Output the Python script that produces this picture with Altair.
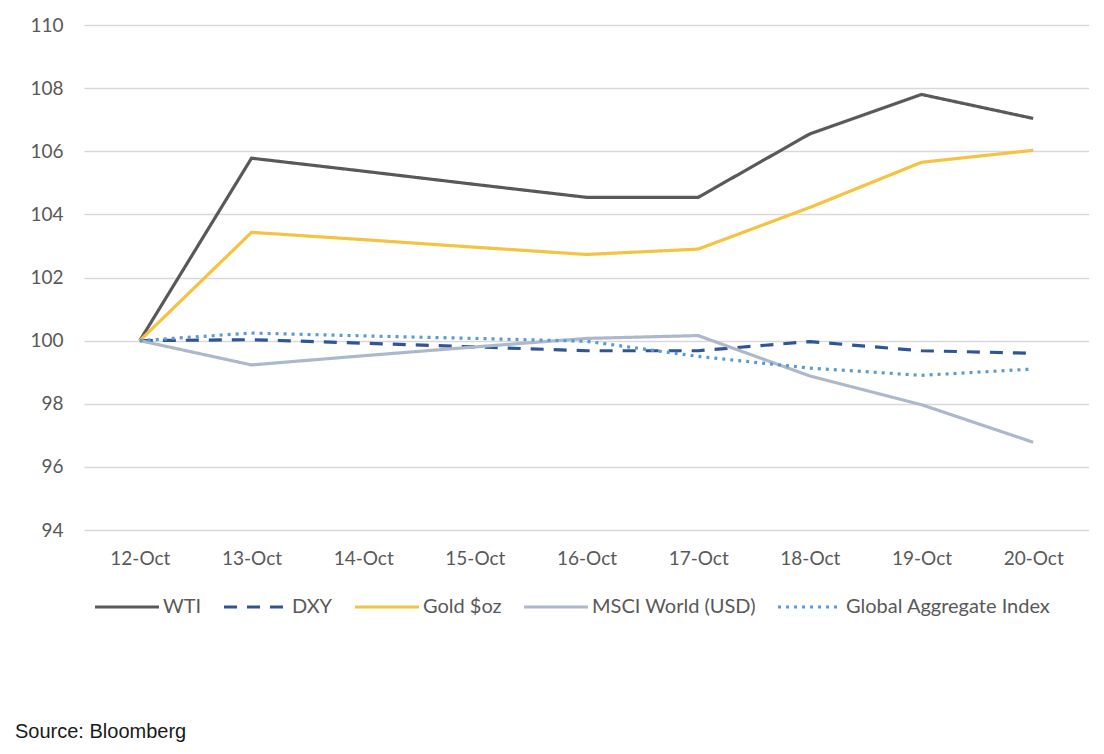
import altair as alt
import pandas as pd

dates = ["12-Oct", "13-Oct", "14-Oct", "15-Oct", "16-Oct", "17-Oct", "18-Oct", "19-Oct", "20-Oct"]
wti = [100, 105.78, 105.37, 104.95, 104.54, 104.54, 106.55, 107.80, 107.04]
dxy = [100, 100.03, 99.92, 99.80, 99.68, 99.68, 99.97, 99.68, 99.60]
gold = [100, 103.43, 103.20, 102.96, 102.73, 102.90, 104.22, 105.65, 106.03]
msci = [100, 99.23, 99.52, 99.80, 100.07, 100.16, 98.88, 97.97, 96.78]
glob = [100, 100.24, 100.15, 100.07, 99.98, 99.50, 99.13, 98.90, 99.10]

series_names = ["WTI", "DXY", "Gold $oz", "MSCI World (USD)", "Global Aggregate Index"]
series_vals = [wti, dxy, gold, msci, glob]
colors = ["#595959", "#2F5597", "#F5C242", "#ADB9CA", "#5B9BD5"]
dashes = [[1, 0], [13, 10], [1, 0], [1, 0], [3, 5]]
y_ticks = [94, 96, 98, 100, 102, 104, 106, 108, 110]

rows = []
for name, vals in zip(series_names, series_vals):
    for d, v in zip(dates, vals):
        rows.append({"date": d, "value": v, "series": name})
df = pd.DataFrame(rows)

label_font = "Lato"
label_color = "#595959"

chart = alt.Chart(df).mark_line(strokeWidth=3.2, strokeJoin="round").encode(
    x=alt.X("date:N", sort=dates, title=None,
            axis=alt.Axis(labelAngle=0, ticks=False, domain=False, grid=False,
                          labelPadding=19, labelFontSize=19, labelFont=label_font,
                          labelColor=label_color)),
    y=alt.Y("value:Q", title=None,
            scale=alt.Scale(domain=[94, 110], nice=False, zero=False),
            axis=alt.Axis(values=y_ticks, ticks=False, domain=False,
                          labelPadding=21, labelFontSize=19, labelFont=label_font,
                          labelColor=label_color, gridColor="#D9D9D9", gridWidth=1.3)),
    color=alt.Color("series:N", sort=series_names,
                    scale=alt.Scale(domain=series_names, range=colors),
                    legend=alt.Legend(title=None, orient="none", direction="horizontal",
                                      legendX=9, legendY=548, symbolType="stroke",
                                      symbolSize=4096, symbolStrokeWidth=3.2,
                                      labelFontSize=20, labelFont=label_font,
                                      labelColor=label_color, labelOffset=2,
                                      columnPadding=15, labelLimit=400, columns=5)),
    strokeDash=alt.StrokeDash("series:N", sort=series_names,
                              scale=alt.Scale(domain=series_names, range=dashes),
                              legend=None),
    order=alt.Order("series:N"),
).properties(
    width=1005,
    height=505,
    padding={"left": 76, "top": 17, "right": 0, "bottom": 214},
    autosize=alt.AutoSizeParams(type="none"),
    title=alt.TitleParams("Source: Bloomberg", orient="bottom", anchor="start",
                          frame="group", dx=-69, offset=105, fontSize=20,
                          font="Liberation Sans", fontWeight="normal", color="#1a1a1a"),
).configure_view(stroke=None)

chart.save("out.html", embed_options={"renderer": "svg", "actions": False})
